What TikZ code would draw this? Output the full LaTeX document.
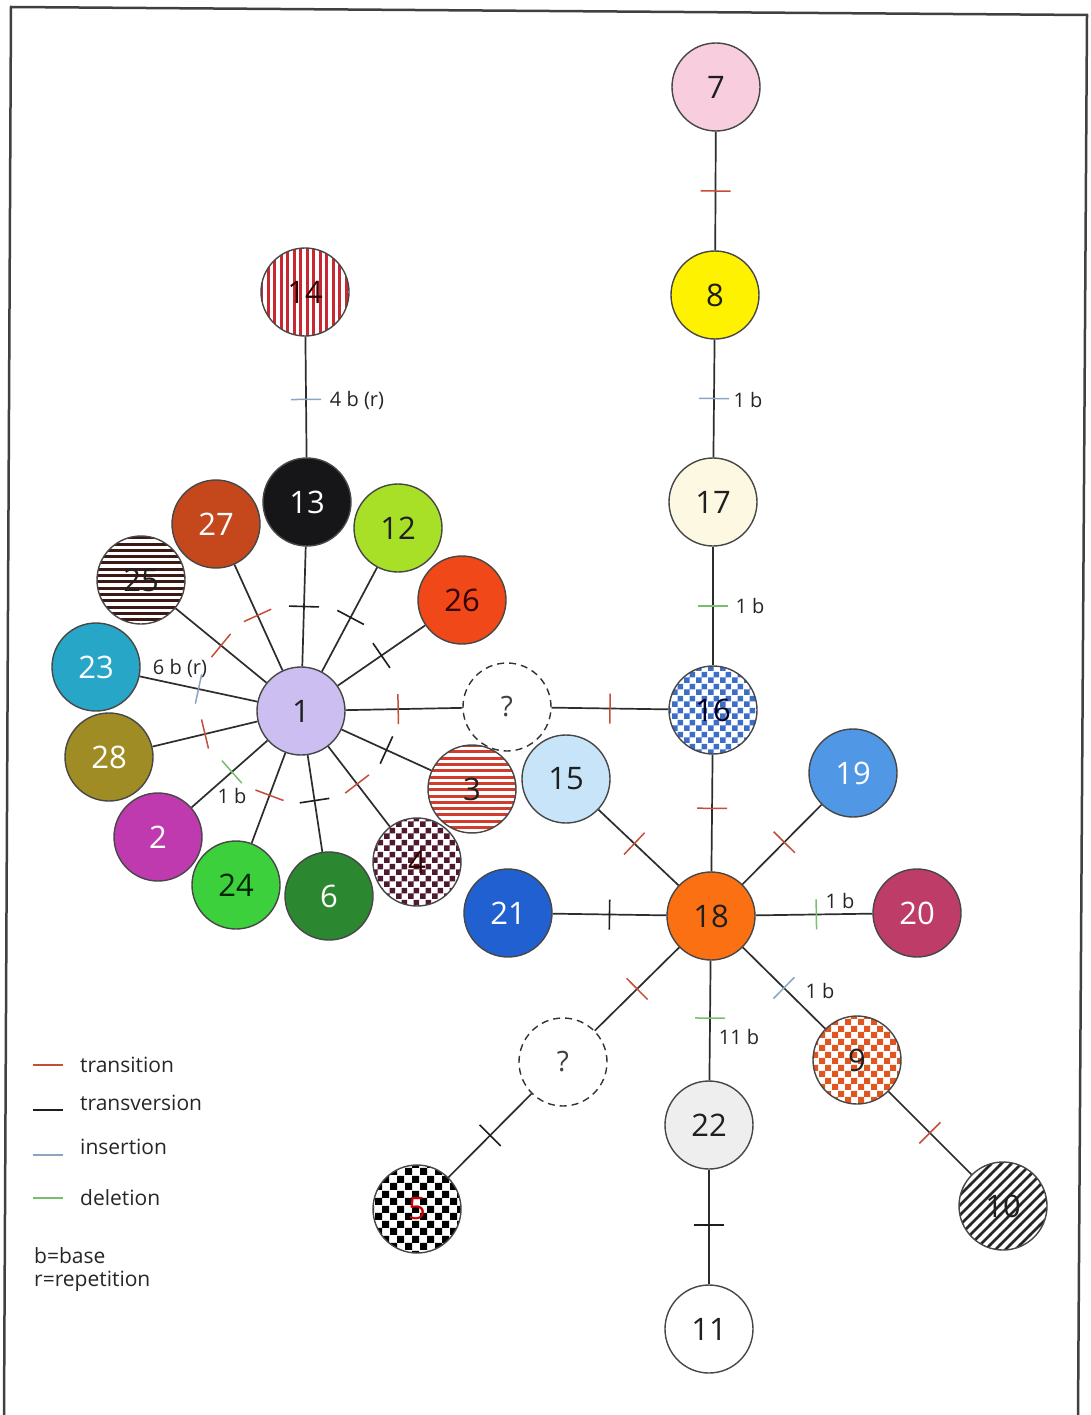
\documentclass[tikz,border=0pt]{standalone}
\usepackage{fontspec}
\setmainfont{Open Sans}
\usetikzlibrary{decorations.markings,patterns}

\definecolor{trc}{RGB}{196,78,58}
\definecolor{tvc}{RGB}{30,30,30}
\definecolor{inc}{RGB}{140,165,195}
\definecolor{dlc}{RGB}{120,190,110}
\definecolor{edgec}{RGB}{45,45,45}

\definecolor{c7}{RGB}{248,205,222}
\definecolor{c8}{RGB}{255,242,0}
\definecolor{c17}{RGB}{253,248,225}
\definecolor{c1}{RGB}{204,190,240}
\definecolor{c13}{RGB}{22,22,24}
\definecolor{c12}{RGB}{168,224,40}
\definecolor{c27}{RGB}{196,72,28}
\definecolor{c26}{RGB}{240,72,24}
\definecolor{c23}{RGB}{40,166,200}
\definecolor{c28}{RGB}{160,140,36}
\definecolor{c2}{RGB}{190,58,174}
\definecolor{c24}{RGB}{60,208,60}
\definecolor{c6}{RGB}{44,136,48}
\definecolor{c15}{RGB}{200,228,248}
\definecolor{c19}{RGB}{80,152,230}
\definecolor{c18}{RGB}{252,112,20}
\definecolor{c21}{RGB}{32,96,208}
\definecolor{c20}{RGB}{190,60,104}
\definecolor{c22}{RGB}{238,238,238}
\definecolor{p14}{RGB}{200,40,50}
\definecolor{p25}{RGB}{60,25,20}
\definecolor{p3}{RGB}{210,60,45}
\definecolor{p4}{RGB}{80,25,50}
\definecolor{p16}{RGB}{60,110,200}
\definecolor{p9}{RGB}{225,85,30}

\pgfdeclarepatternformonly{vstripes}{\pgfqpoint{-1pt}{-1pt}}{\pgfqpoint{7.5pt}{7.5pt}}{\pgfqpoint{6.5pt}{6.5pt}}{%
  \pgfpathrectangle{\pgfqpoint{0pt}{-1pt}}{\pgfqpoint{3.2pt}{8.5pt}}\pgfusepath{fill}}
\pgfdeclarepatternformonly{hstripes}{\pgfqpoint{-1pt}{-1pt}}{\pgfqpoint{7.3pt}{7.3pt}}{\pgfqpoint{6.3pt}{6.3pt}}{%
  \pgfpathrectangle{\pgfqpoint{-1pt}{0pt}}{\pgfqpoint{8.3pt}{3pt}}\pgfusepath{fill}}
\pgfdeclarepatternformonly{dstripes}{\pgfqpoint{-2pt}{-2pt}}{\pgfqpoint{12pt}{12pt}}{\pgfqpoint{10pt}{10pt}}{%
  \pgfsetlinewidth{2.8pt}\pgfpathmoveto{\pgfqpoint{-0.5pt}{-0.5pt}}\pgfpathlineto{\pgfqpoint{10.5pt}{10.5pt}}\pgfusepath{stroke}}
\pgfdeclarepatternformonly{chksix}{\pgfpointorigin}{\pgfqpoint{12pt}{12pt}}{\pgfqpoint{12pt}{12pt}}{%
  \pgfpathrectangle{\pgfpointorigin}{\pgfqpoint{6.05pt}{6.05pt}}\pgfpathrectangle{\pgfqpoint{6pt}{6pt}}{\pgfqpoint{6.05pt}{6.05pt}}\pgfusepath{fill}}
\pgfdeclarepatternformonly{chksixh}{\pgfpointorigin}{\pgfqpoint{13pt}{13pt}}{\pgfqpoint{13pt}{13pt}}{%
  \pgfpathrectangle{\pgfpointorigin}{\pgfqpoint{6.55pt}{6.55pt}}\pgfpathrectangle{\pgfqpoint{6.5pt}{6.5pt}}{\pgfqpoint{6.55pt}{6.55pt}}\pgfusepath{fill}}
\pgfdeclarepatternformonly{chkbig}{\pgfpointorigin}{\pgfqpoint{15pt}{15pt}}{\pgfqpoint{15pt}{15pt}}{%
  \pgfpathrectangle{\pgfpointorigin}{\pgfqpoint{7.55pt}{7.55pt}}\pgfpathrectangle{\pgfqpoint{7.5pt}{7.5pt}}{\pgfqpoint{7.55pt}{7.55pt}}\pgfusepath{fill}}

\tikzset{
  hap/.style={circle, minimum size=88pt, inner sep=0pt, draw=black!72, line width=1.4pt,
    font=\fontsize{31}{31}\selectfont, text=black!88},
  unk/.style={hap, dash pattern=on 7pt off 5pt, draw=black!80, text=black!75, font=\fontsize{28}{28}\selectfont},
  conn/.style={draw=edgec, line width=1.7pt},
  transition/.style={postaction={decorate,decoration={markings,mark=at position #1 with {\draw[trc,line width=1.5pt] (0,-15)--(0,15);}}}},
  transition/.default=0.5,
  transversion/.style={postaction={decorate,decoration={markings,mark=at position #1 with {\draw[tvc,line width=1.6pt] (0,-15)--(0,15);}}}},
  transversion/.default=0.5,
  insertion/.style={postaction={decorate,decoration={markings,mark=at position #1 with {\draw[inc,line width=1.5pt] (0,-15)--(0,15);}}}},
  insertion/.default=0.5,
  deletion/.style={postaction={decorate,decoration={markings,mark=at position #1 with {\draw[dlc,line width=1.5pt] (0,-15)--(0,15);}}}},
  deletion/.default=0.5,
  lbl/.style={font=\fontsize{20}{20}\selectfont, text=black!85, inner sep=0pt},
  legtext/.style={font=\fontsize{21}{21}\selectfont, text=black!85, anchor=west, inner sep=0pt},
  legline/.style={line width=1.6pt},
}

\begin{document}
\begin{tikzpicture}[x=1pt,y=-1pt]
\useasboundingbox (0,0) rectangle (1091,1415);
\fill[white] (0,0) rectangle (1091,1415);
\draw[black!75, line width=2.5pt] (4,1416) -- (11,7) -- (1087,15) -- (1078,1416);

% haplotype nodes
\node[hap, fill=c7] (n7) at (716,87) {7};
\node[hap, fill=c8] (n8) at (715,295) {8};
\node[hap, fill=c17] (n17) at (713,502) {17};
\node[hap, pattern=chksix, pattern color=p16, text=black!85!blue] (n16) at (713,710) {16};
\node[unk] (q1) at (507,707) {?};
\node[hap, fill=c1] (n1) at (301,711) {1};
\node[hap, pattern=vstripes, pattern color=p14, text=black!80!red] (n14) at (305,292) {14};
\node[hap, fill=c13, text=white] (n13) at (307,502) {13};
\node[hap, fill=c12] (n12) at (398,528) {12};
\node[hap, fill=c27, text=white] (n27) at (216,524) {27};
\node[hap, fill=c26, text=black!80!red] (n26) at (462,600) {26};
\node[hap, pattern=hstripes, pattern color=p25] (n25) at (141,580) {25};
\node[hap, fill=c23, text=white] (n23) at (96,667) {23};
\node[hap, fill=c28, text=white] (n28) at (109,757) {28};
\node[hap, fill=c2, text=white] (n2) at (158,837) {2};
\node[hap, fill=c24, text=black!85!green] (n24) at (236,885) {24};
\node[hap, fill=c6, text=white] (n6) at (329,896) {6};
\node[hap, pattern=chksix, pattern color=p4, text=black!80!red] (n4) at (417,862) {4};
\node[hap, pattern=hstripes, pattern color=p3] (n3) at (472,789) {3};
\node[hap, fill=c15] (n15) at (566,779) {15};
\node[hap, fill=c19, text=white] (n19) at (853,773) {19};
\node[hap, fill=c18] (n18) at (711,916) {18};
\node[hap, fill=c21, text=white] (n21) at (508,913) {21};
\node[hap, fill=c20, text=white] (n20) at (917,913) {20};
\node[hap, pattern=chksixh, pattern color=p9] (n9) at (857,1060) {9};
\node[hap, pattern=dstripes, pattern color=black!85] (n10) at (1003,1206) {10};
\node[hap, fill=c22] (n22) at (709,1125) {22};
\node[hap, fill=white] (n11) at (709,1329) {11};
\node[unk] (q2) at (563,1062) {?};
\node[hap, pattern=chkbig, pattern color=black, text=red!80!black] (n5) at (417,1209) {5};

% connectors
\draw[conn, transition] (n7) -- (n8);
\draw[conn, insertion] (n8) -- (n17);
\draw[conn, deletion] (n17) -- (n16);
\draw[conn, transition=0.45] (n1) -- (q1);
\draw[conn, transition] (q1) -- (n16);
\draw[conn, transition=0.46] (n16) -- (n18);
\draw[conn, insertion=0.52] (n14) -- (n13);

\draw[conn, transversion] (n1) -- (n13);
\draw[conn, transversion=0.52] (n1) -- (n12);
\draw[conn, transition=0.52] (n1) -- (n27);
\draw[conn, transition] (n1) -- (n25);
\draw[conn, transversion] (n1) -- (n26);
\draw[conn, insertion] (n1) -- (n23);
\draw[conn, transition] (n1) -- (n28);
\draw[conn, deletion=0.47] (n1) -- (n2);
\draw[conn, transition=0.47] (n1) -- (n24);
\draw[conn, transversion=0.47] (n1) -- (n6);
\draw[conn, transition=0.47] (n1) -- (n4);
\draw[conn, transversion] (n1) -- (n3);

\draw[conn, transition=0.45] (n15) -- (n18);
\draw[conn, transition=0.53] (n18) -- (n19);
\draw[conn, transversion] (n21) -- (n18);
\draw[conn, deletion=0.52] (n18) -- (n20);
\draw[conn, insertion] (n18) -- (n9);
\draw[conn, deletion=0.48] (n18) -- (n22);
\draw[conn, transition] (n18) -- (q2);
\draw[conn, transversion] (q2) -- (n5);
\draw[conn, transition] (n9) -- (n10);
\draw[conn, transversion=0.48] (n22) -- (n11);

% edge labels
\node[lbl] (l817) at (748,400) {1 b};
\node[lbl] (l1716) at (750,606) {1 b};
\node[lbl] (l1413) at (357,400) {4 b (r)};
\node[lbl] (l123) at (180,668) {6 b (r)};
\node[lbl] (l12) at (232,796) {1 b};
\node[lbl] (l1820) at (840,901) {1 b};
\node[lbl] (l189) at (820,991) {1 b};
\node[lbl] (l1822) at (739,1037) {11 b};

% legend
\draw[legline, trc] (33,1065) -- (63,1065);
\node[legtext] (lt1) at (80,1065) {transition};
\draw[legline, tvc] (33,1110) -- (63,1110);
\node[legtext] (lt2) at (80,1103) {transversion};
\draw[legline, inc] (33,1155) -- (63,1155);
\node[legtext] (lt3) at (80,1147) {insertion};
\draw[legline, dlc] (33,1198) -- (63,1198);
\node[legtext] (lt4) at (80,1198) {deletion};
\node[legtext, anchor=west] (lb) at (34,1256) {b=base};
\node[legtext, anchor=west] (lr) at (34,1281) {r=repetition};
\end{tikzpicture}
\end{document}
